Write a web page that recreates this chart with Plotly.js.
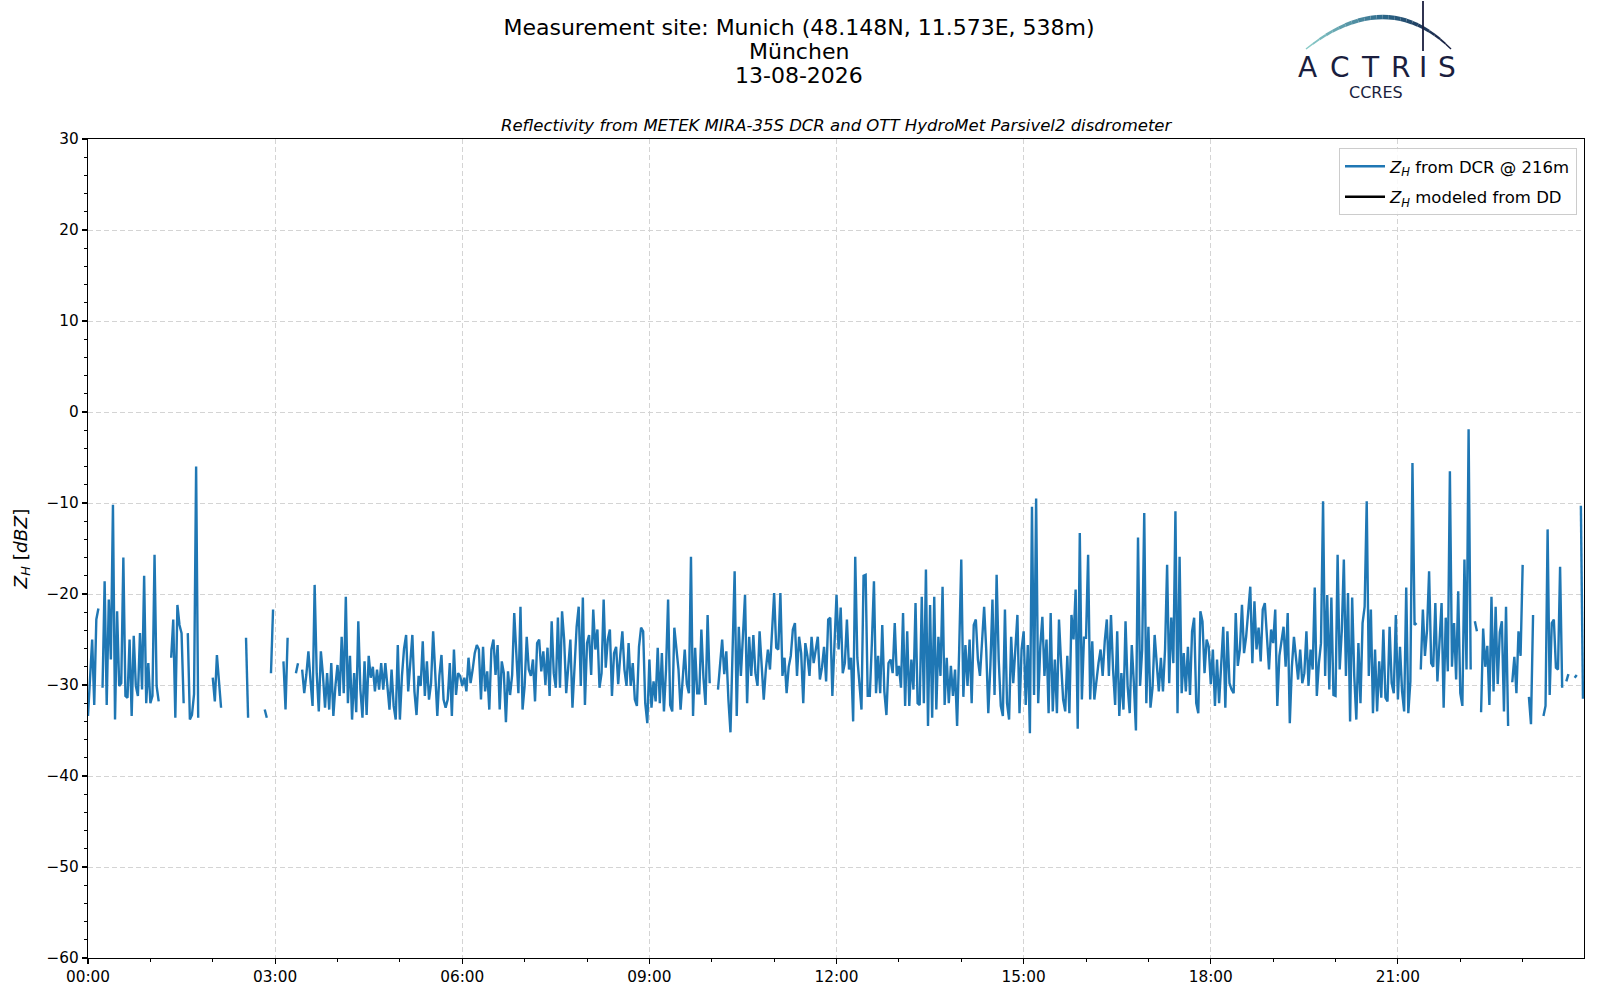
<!DOCTYPE html>
<html>
<head>
<meta charset="utf-8">
<script src="https://cdn.plot.ly/plotly-3.0.1.min.js"></script>
<style>html,body{margin:0;padding:0;background:#fff;}#chart{width:1600px;height:1000px;}</style>
</head>
<body>
<div id="chart"></div>
<script>
// Reflectivity Z_H [dBZ] from the DCR at 216 m, 2-minute samples, one array per hour (null = no data)
const h00 = [-33.4,-28.3,-25,-32.2,-22.8,-21.6,null,-30.3,-18.6,-32.2,-20.6,-27.2,-10.2,-33.8,-21.9,-30.1,-29.8,-16,-31.2,-31.4,-25,-33.4,-24.6,-30.1,-31.2,-24.3,-30.5,-18,-32,-27.6];
const h01 = [-32,-31.2,-15.7,-30.1,-31.8,null,null,null,null,null,-27,-22.8,-33.6,-21.2,-23.4,-24.3,-32,null,-24.3,-33.8,-33.3,-31,-6,-33.6,null,null,null,null,null,null];
const h02 = [-29.2,-31.8,-26.7,-30.1,-32.5,null,null,null,null,null,null,null,null,null,null,null,-24.8,-33.6,null,null,null,null,null,null,null,-32.7,-33.6,null,-28.7,-21.7];
const h03 = [null,null,null,null,-27.4,-32.7,-24.8,null,null,null,-28.7,-27.6,null,-28.3,-30.9,-28.9,-26.3,-29.5,-32.3,-19,-28.7,-32.9,-26.3,-28.9,-32.5,-28.7,-32.7,-27.6,-33.4,-30.1];
const h04 = [-27.8,-31.2,-24.7,-30.9,-20.3,-32,-26.8,-33.8,-28.7,-33,-23,-30.5,-33.6,-27.4,-33.3,-26.8,-29.2,-28,-30.7,-28.3,-30.5,-27.6,-30.5,-27.6,-30.3,-32.7,-28.3,-32.3,-33.8,-25.6];
const h05 = [-33.8,-29,-26,-24.5,-30.7,-28,-24.5,-30.7,-33.3,-29,-30.1,-25.2,-31.2,-27.4,-31.6,-29.8,-24.1,-28.7,-33.4,-29,-26.7,-31.6,-32.5,-31.6,-27.6,-33.4,-26.1,-31.1,-28.7,-29];
const h06 = [-30.1,-29.2,-30.7,-27,-29.8,-28.3,-26.5,-25.6,-26.1,-31.6,-25.8,-30.7,-28.5,-32.7,-26.1,-25,-28.9,-25.6,-32.7,-27.4,-28.7,-34.1,-28.5,-31.1,-28.9,-22.1,-27.2,-30.9,-21.4,-32.7];
const h07 = [-30.1,-24.7,-28.3,-29,-27.2,-31.8,-25.4,-25,-28.5,-26.3,-30,-25.9,-31.2,-23,-28.7,-30.3,-22.6,-30.3,-21.9,-25,-30.9,-27.9,-25,-32.5,-27.9,-23.6,-21.4,-30.1,-20.4,-32.2];
const h08 = [-25.4,-24.5,-28.9,-21.7,-26.1,-23.9,-30.3,-28.7,-20.6,-28.1,-25,-23.9,-31.2,-26.5,-25.8,-29.9,-26.7,-24.1,-28.3,-30.1,-25.4,-30.1,-27.6,-31.6,-32.3,-25.8,-23.7,-24.1,-32,-34.2];
const h09 = [-27.2,-32.5,-29.6,-31.8,-25.9,-32,-26.5,-32.9,-28.3,-20.6,-32.2,-32.9,-23.7,-26.1,-28.3,-32.7,-29.2,-26.1,-29.9,-30.9,-15.9,-33.4,-25.9,-30.9,-30.9,-23.9,-29.2,-32.2,-22.3,-29.8];
const h10 = [null,null,null,-30.5,-28,-25,-28.8,-26.3,-31.6,-35.2,-26.3,-17.5,-33.4,-23.6,-29,-24.5,-20.1,-32,-24.7,-29,-24.5,-28.7,-30.1,-24.1,-27.6,-31.6,-28.3,-26.1,-28.3,-23.6];
const h11 = [-19.9,-25.9,-26.1,-19.9,-29,-27,-30.9,-28,-26.8,-23.9,-23.2,-29,-24.7,-26.5,-32,-25.4,-26.8,-29,-24.7,-27.6,-26.1,-24.7,-29.4,-28.1,-25.8,-29.6,-22.8,-22.6,-31.2,-26.1];
const h12 = [-20.1,-26.1,-21.5,-28.7,-27.6,-22.8,-28.3,-27,-34,-15.9,-27,-29.8,-32.7,-18,-17.9,-31.2,-31.2,-25.4,-18.6,-30.9,-26.8,-30.9,-23.4,-30.7,-33.3,-27.6,-27.2,-28.7,-23.2,-29];
const h13 = [-27.9,-30.3,-22.1,-32.3,-24.1,-32.3,-27.2,-30.5,-21,-32,-32.2,-20.3,-32,-17.3,-34.5,-21.2,-33.6,-20.3,-32.7,-24.7,-29,-19.2,-32.2,-27,-32,-27.9,-31.2,-28.3,-34.5,-26.1];
const h14 = [-16.2,-31.3,-25.6,-30.1,-25,-32,-23.4,-22.8,-27.2,-29,-25.4,-21.4,-26.1,-33.1,-27.9,-20.6,-31.1,-17.9,-27.2,-32.3,-33.4,-21.7,-32,-33.8,-24.7,-29.8,-26.1,-22.3,-33.1,-26.1];
const h15 = [-24.1,-32.2,-25.6,-35.3,-10.4,-31.1,-9.5,-32,-25.8,-22.5,-29,-25,-33.1,-22.1,-32.9,-27.2,-33.1,-22.8,-27.6,-31.6,-32.9,-26.8,-33.1,-22.3,-25,-19.5,-34.8,-13.3,-31.6,-24.8];
const h16 = [-24.8,-15.7,-31.6,-25.2,-31.6,-29.4,-27.6,-26.1,-29,-25.2,-22.8,-29,-22.3,-28.3,-32.2,-24.1,-33.4,-28.7,-32.7,-23,-30.1,-33.1,-25.6,-29.8,-35,-13.8,-30.1,-26.1,-11.1,-32];
const h17 = [-23.6,-32.5,-30.3,-24.5,-27.2,-30.7,-27,-30.7,-26.1,-16.8,-29.8,-22.6,-27.6,-10.9,-33.1,-15.9,-30.9,-26.5,-30.7,-25.8,-31.1,-24.1,-22.6,-32,-33.1,-21.9,-23,-28.7,-25,-25.8];
const h18 = [-29.9,-26.1,-32.3,-27.2,-32,-27.6,-23.6,-32.5,-24.1,-29.8,-30.5,-30.9,-22.1,-27.9,-26.1,-21.2,-26.5,-24.7,-22.1,-19.2,-27.6,-20.8,-26.1,-23.7,-27.4,-21.7,-21,-25,-28.3,-23.9];
const h19 = [-25.4,-21.7,-32.3,-26.8,-25,-23.6,-28,-22.1,-34.2,-28,-24.7,-26.8,-29.4,-26.1,-29.8,-28.7,-24.1,-30.1,-26.1,-28.3,-19.3,-31.2,-27.6,-25.4,-9.8,-29,-20.1,-30.5,-20.4,-31.1];
const h20 = [-31.2,-15.7,-28.3,-24.1,-16.2,-29,-19.9,-34,-20.4,-29,-33.8,-25.4,-32,-23.2,-21.4,-9.8,-29,-21.7,-33.1,-26.1,-32.9,-27.4,-31.4,-23.9,-31.4,-31.8,-23.6,-29.8,-30.9,-22.3];
const h21 = [-31.6,-25.8,-30.7,-32.9,-19.3,-33.1,-29.6,-5.6,-23.4,-23.2,null,-28.3,-21.7,-26.8,-24,-17.5,-27.6,-28,-21,-29.6,-25,-21,-32.5,-22.6,-28.5,-6.5,-28,-23.2,-29.4,-19.7];
const h22 = [-30.9,-32.3,-16.2,-28.3,-1.9,-28.3,null,-23,-24.1,null,-33,-23.8,-28,-25.7,-32.2,-20.3,-30.7,-21.4,-29.9,-24.2,-23,-32.9,-21.4,-34.5,null,-29.7,-26.9,-30.9,-24.1,-26.8];
const h23 = [-16.8,null,null,-31.3,-34.3,-22.3,null,null,null,null,-33.4,-32.3,-12.9,-31.1,-23.2,-22.8,-28.1,-28.3,-17,-30.3,null,-29.6,-28.8,null,null,-29.2,-28.9,null,-10.3,-31.5];

// Z_H modeled from the disdrometer: no valid values on this day
const zhModeled = [null];

const day = '2026-08-13';
const stepMinutes = 2;
const yTicks = [-60,-50,-40,-30,-20,-10,0,10,20,30];

const hours = [h00,h01,h02,h03,h04,h05,h06,h07,h08,h09,h10,h11,h12,h13,h14,h15,h16,h17,h18,h19,h20,h21,h22,h23];
function pad(n){return (n<10?'0':'')+n;}
const tx = [], zy = [];
hours.forEach((arr,h)=>arr.forEach((v,j)=>{
  const m = h*60 + j*stepMinutes;
  tx.push(day+' '+pad(Math.floor(m/60))+':'+pad(m%60));
  zy.push(v);
}));
const txModeled = zhModeled.map((v,i)=>tx[i]);

// plot-area pixel geometry -> paper coordinates for decorations
const L=88,R=1584,T=139,B=958;
const PX = x => (x-L)/(R-L);
const PY = y => (B-y)/(B-T);

const FONT = 'DejaVu Sans';
const navy = '#1a1e3e';

const traces = [
  {x: tx, y: zy, type:'scatter', mode:'lines', name:'<i>Z</i><sub><i>H</i></sub> from DCR @ 216m',
   line:{color:'#1f77b4', width:2.4}, connectgaps:false, legendgroup:'a'},
  {x: txModeled, y: zhModeled, type:'scatter', mode:'lines', name:'<i>Z</i><sub><i>H</i></sub> modeled from DD',
   line:{color:'#000000', width:2.4}, legendgroup:'b', showlegend:true}
];

const shapes = [];
// ACTRIS logo arc (quadratic bezier split into coloured segments)
const A=[1306,49], C=[1387,-15], Bp=[1451,49];
const N=24;
function bez(t){const u=1-t;return [u*u*A[0]+2*u*t*C[0]+t*t*Bp[0], u*u*A[1]+2*u*t*C[1]+t*t*Bp[1]];}
function lerp(a,b,t){return Math.round(a+(b-a)*t);}
const c0=[140,206,202], c1=[44,104,138], c2=[22,26,60];
for(let i=0;i<N;i++){
  const t0=i/N, t1=(i+1)/N, tm=(t0+t1)/2;
  const p0=bez(t0), p1=bez(t1);
  let col;
  if(tm<0.5){const k=tm/0.5; col=[lerp(c0[0],c1[0],k),lerp(c0[1],c1[1],k),lerp(c0[2],c1[2],k)];}
  else {const k=(tm-0.5)/0.5; col=[lerp(c1[0],c2[0],k),lerp(c1[1],c2[1],k),lerp(c1[2],c2[2],k)];}
  const w = 1.2 + 3.2*Math.sin(Math.PI*tm);
  shapes.push({type:'line', xref:'paper', yref:'paper', x0:PX(p0[0]), y0:PY(p0[1]), x1:PX(p1[0]), y1:PY(p1[1]),
    line:{color:'rgb('+col.join(',')+')', width:w}});
}
shapes.push({type:'line', xref:'paper', yref:'paper', x0:PX(1423), y0:PY(1), x1:PX(1423), y1:PY(51), line:{color:navy, width:1.8}});

const annotations = [
  {text:'München', x:PX(799), y:PY(51.5), xref:'paper', yref:'paper', showarrow:false, xanchor:'center', yanchor:'middle', font:{family:FONT, size:22, color:'#000'}},
  {text:'13-08-2026', x:PX(799), y:PY(75), xref:'paper', yref:'paper', showarrow:false, xanchor:'center', yanchor:'middle', font:{family:FONT, size:22, color:'#000'}},
  {text:'<i>Reflectivity from METEK MIRA-35S DCR and OTT HydroMet Parsivel2 disdrometer</i>', x:PX(836), y:PY(125.5), xref:'paper', yref:'paper', showarrow:false, xanchor:'center', yanchor:'middle', font:{family:FONT, size:16.5, color:'#000'}},
  {text:'CCRES', x:PX(1376), y:PY(93), xref:'paper', yref:'paper', showarrow:false, xanchor:'center', yanchor:'middle', font:{family:FONT, size:16, color:navy}}
];
const letters = ['A','C','T','R','I','S'];
const letterX = [1307,1340,1370,1400,1423,1447];
letters.forEach((ch,i)=>annotations.push({text:ch, x:PX(letterX[i]), y:PY(67.5), xref:'paper', yref:'paper', showarrow:false,
  xanchor:'center', yanchor:'middle', font:{family:FONT, size:28, color:navy}}));

const axisCommon = {
  showline:true, linecolor:'#000', linewidth:1.1, mirror:true,
  ticks:'outside', ticklen:5, tickwidth:1.1, tickcolor:'#000',
  tickfont:{family:FONT, size:15.3, color:'#000'},
  showgrid:true, gridcolor:'#d4d4d4', gridwidth:1, griddash:'5px,3px',
  zeroline:false, automargin:false, fixedrange:true
};

const layout = {
  width:1600, height:1000,
  paper_bgcolor:'#fff', plot_bgcolor:'#fff',
  margin:{l:L, r:1600-R, t:T, b:1000-B, pad:0},
  title:{text:'Measurement site: Munich (48.148N, 11.573E, 538m)', x:799/1600, xref:'container', y:1-27.5/1000, yref:'container',
         xanchor:'center', yanchor:'middle', font:{family:FONT, size:22, color:'#000'}},
  font:{family:FONT, color:'#000'},
  showlegend:true,
  legend:{x:PX(1577), y:PY(148), xanchor:'right', yanchor:'top', bgcolor:'rgba(255,255,255,0.85)',
          bordercolor:'#cccccc', borderwidth:1, font:{family:FONT, size:16.5, color:'#000'},
          traceorder:'grouped', tracegroupgap:6, itemwidth:40},
  xaxis: Object.assign({}, axisCommon, {
    type:'date', range:[day+' 00:00', day+' 23:59'], tick0:day+' 00:00', dtick:3*3600000, tickformat:'%H:%M',
    minor:{dtick:3600000, ticks:'outside', ticklen:3, tickwidth:1, tickcolor:'#000', showgrid:false}
  }),
  yaxis: Object.assign({}, axisCommon, {
    range:[-60,30], tickvals:yTicks, ticktext:yTicks.map(v=>v<0?'\u2212'+Math.abs(v):String(v)),
    minor:{dtick:2, tick0:0, ticks:'outside', ticklen:3, tickwidth:1, tickcolor:'#000', showgrid:false},
    title:{text:'<i>Z</i><sub><i>H</i></sub> [<i>dBZ</i>]', font:{family:FONT, size:18.5, color:'#000'}, standoff:14}
  }),
  shapes: shapes,
  annotations: annotations
};

Plotly.newPlot('chart', traces, layout, {staticPlot:true, displayModeBar:false});
</script>
</body>
</html>
